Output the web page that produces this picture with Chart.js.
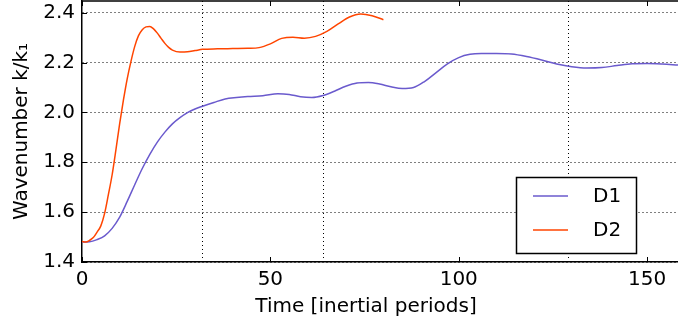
<!DOCTYPE html>
<html lang="en">
<head>
<meta charset="UTF-8">
<title>Wavenumber evolution</title>
<style>
    html, body { margin: 0; padding: 0; background: #fff; overflow: hidden; }
    #wrap { position: relative; width: 678px; height: 325px; }
</style>
</head>
<body>
<div id="wrap"><canvas id="chart"></canvas></div>
<script src="https://cdn.jsdelivr.net/npm/chart.js"></script>
<script>
// time in inertial periods, wavenumber normalised by k1
const d1Time = [0, 2, 4, 6, 8, 10, 12, 14, 16, 18, 20, 22, 24, 26, 28, 30, 32, 35, 38, 41, 44, 48, 52, 55, 58, 61, 64, 67, 70, 73, 76, 79, 82, 85, 88, 91, 94, 97, 100, 103, 106, 110, 114, 118, 122, 126, 130, 134, 138, 142, 146, 150, 154, 158.2];
const d1Value = [1.48, 1.481, 1.49, 1.505, 1.535, 1.58, 1.643, 1.71, 1.775, 1.832, 1.881, 1.921, 1.954, 1.979, 1.999, 2.014, 2.025, 2.04, 2.054, 2.06, 2.064, 2.067, 2.075, 2.072, 2.063, 2.06, 2.068, 2.085, 2.105, 2.118, 2.12, 2.114, 2.103, 2.096, 2.1, 2.125, 2.16, 2.195, 2.22, 2.233, 2.236, 2.236, 2.234, 2.224, 2.21, 2.194, 2.183, 2.178, 2.18, 2.188, 2.195, 2.196, 2.194, 2.19];

const d2Time = [0, 1, 2, 3, 4, 5, 6, 7, 8, 9, 10, 11, 12, 13, 14, 15, 16, 17, 18, 19, 20, 21, 22, 23, 24, 26, 28, 30, 32, 36, 40, 44, 47, 50, 53, 56, 59, 62, 65, 68, 71, 74, 77, 80];
const d2Value = [1.482, 1.48, 1.487, 1.498, 1.52, 1.545, 1.595, 1.67, 1.75, 1.85, 1.955, 2.05, 2.135, 2.205, 2.265, 2.308, 2.332, 2.343, 2.345, 2.335, 2.318, 2.297, 2.277, 2.261, 2.25, 2.242, 2.243, 2.248, 2.253, 2.255, 2.256, 2.257, 2.26, 2.275, 2.297, 2.302, 2.298, 2.305, 2.325, 2.355, 2.383, 2.395, 2.388, 2.372];

const seriesLabels = ['D1', 'D2'];
const seriesColors = ['#6a5acd', '#ff4500'];

const xTicks = [0, 50, 100, 150];
const yTicks = [1.4, 1.6, 1.8, 2.0, 2.2, 2.4];
const xGridLines = [32, 64, 129.2];

const X_MIN = 0, X_MAX = 158.2;
const Y_MIN = 1.4, Y_MAX = 2.447;

const FONT = { family: "'DejaVu Sans', sans-serif", size: 20 };

function toPoints(xs, ys) {
    return xs.map((x, i) => ({ x: x, y: ys[i] }));
}

function noEdgePadding(s) {
    s.paddingTop = 0;
    s.paddingBottom = 0;
    s.paddingLeft = 0;
    s.paddingRight = 0;
}

// matplotlib-style frame: top spine, inward ticks, boxed legend, x label
const framePlugin = {
    id: 'frame',
    afterDraw(chart) {
        const ctx = chart.ctx;
        const area = chart.chartArea;
        const xs = chart.scales.x;
        const ys = chart.scales.y;

        ctx.save();
        ctx.strokeStyle = '#000';
        ctx.lineWidth = 1.5;
        ctx.beginPath();
        ctx.moveTo(area.left, area.top);
        ctx.lineTo(area.right, area.top);
        ctx.stroke();

        ctx.lineWidth = 1;
        ctx.beginPath();
        xTicks.forEach(v => {
            const px = Math.round(xs.getPixelForValue(v)) + 0.5;
            ctx.moveTo(px, area.bottom);
            ctx.lineTo(px, area.bottom - 5);
            ctx.moveTo(px, area.top);
            ctx.lineTo(px, area.top + 5);
        });
        yTicks.forEach(v => {
            const py = Math.round(ys.getPixelForValue(v)) + 0.5;
            ctx.moveTo(area.left, py);
            ctx.lineTo(area.left + 5, py);
        });
        ctx.stroke();

        // legend box
        ctx.fillStyle = '#fff';
        ctx.fillRect(516.5, 177.5, 120, 76);
        ctx.strokeStyle = '#000';
        ctx.lineWidth = 1.5;
        ctx.strokeRect(516.5, 177.5, 120, 76);
        ctx.font = FONT.size + 'px ' + FONT.family;
        ctx.textBaseline = 'middle';
        ctx.textAlign = 'left';
        chart.data.datasets.forEach((ds, i) => {
            const y = 196 + i * 34;
            ctx.strokeStyle = ds.borderColor;
            ctx.lineWidth = 1.5;
            ctx.beginPath();
            ctx.moveTo(533, y);
            ctx.lineTo(568, y);
            ctx.stroke();
            ctx.fillStyle = '#000';
            ctx.fillText(ds.label, 593, y + 1);
        });

        // x axis label
        ctx.textAlign = 'center';
        ctx.textBaseline = 'alphabetic';
        ctx.fillText('Time [inertial periods]', 366, 312);
        ctx.restore();
    }
};

new Chart(document.getElementById('chart'), {
    type: 'line',
    data: {
        datasets: [
            {
                label: seriesLabels[0],
                data: toPoints(d1Time, d1Value),
                borderColor: seriesColors[0],
                borderWidth: 1.5,
                pointRadius: 0,
                cubicInterpolationMode: 'monotone',
                order: 1
            },
            {
                label: seriesLabels[1],
                data: toPoints(d2Time, d2Value),
                borderColor: seriesColors[1],
                borderWidth: 1.5,
                pointRadius: 0,
                cubicInterpolationMode: 'monotone',
                order: 0
            }
        ]
    },
    options: {
        responsive: true,
        maintainAspectRatio: false,
        animation: false,
        layout: { padding: { top: 1, right: 0, left: 0, bottom: 0 } },
        plugins: {
            legend: { display: false },
            tooltip: { enabled: false }
        },
        scales: {
            x: {
                type: 'linear',
                min: X_MIN,
                max: X_MAX,
                afterBuildTicks: s => { s.ticks = xTicks.map(v => ({ value: v })); },
                afterFit: s => { s.height = 63; noEdgePadding(s); },
                ticks: { font: FONT, color: '#000', padding: 6, maxRotation: 0 },
                grid: { drawOnChartArea: false, drawTicks: false },
                border: { display: true, color: '#000', width: 1.5 }
            },
            xg: {
                type: 'linear',
                position: 'bottom',
                min: X_MIN,
                max: X_MAX,
                afterBuildTicks: s => { s.ticks = xGridLines.map(v => ({ value: v })); },
                afterFit: s => { s.height = 0; noEdgePadding(s); },
                ticks: { display: false },
                grid: { color: '#000', lineWidth: 1, drawTicks: false },
                border: { display: false, dash: [1, 3] }
            },
            y: {
                type: 'linear',
                min: Y_MIN,
                max: Y_MAX,
                afterBuildTicks: s => { s.ticks = yTicks.map(v => ({ value: v })); },
                afterFit: s => { s.width = 82; noEdgePadding(s); },
                ticks: { font: FONT, color: '#000', padding: 7, callback: v => v.toFixed(1) },
                grid: { color: '#000', lineWidth: 1, drawTicks: false },
                border: { display: true, color: '#000', width: 1.5, dash: [1, 3] },
                title: {
                    display: true,
                    text: 'Wavenumber k/k\u2081',
                    font: FONT,
                    color: '#000',
                    padding: { top: 10, bottom: 0 }
                }
            }
        }
    },
    plugins: [framePlugin]
});
</script>
</body>
</html>
